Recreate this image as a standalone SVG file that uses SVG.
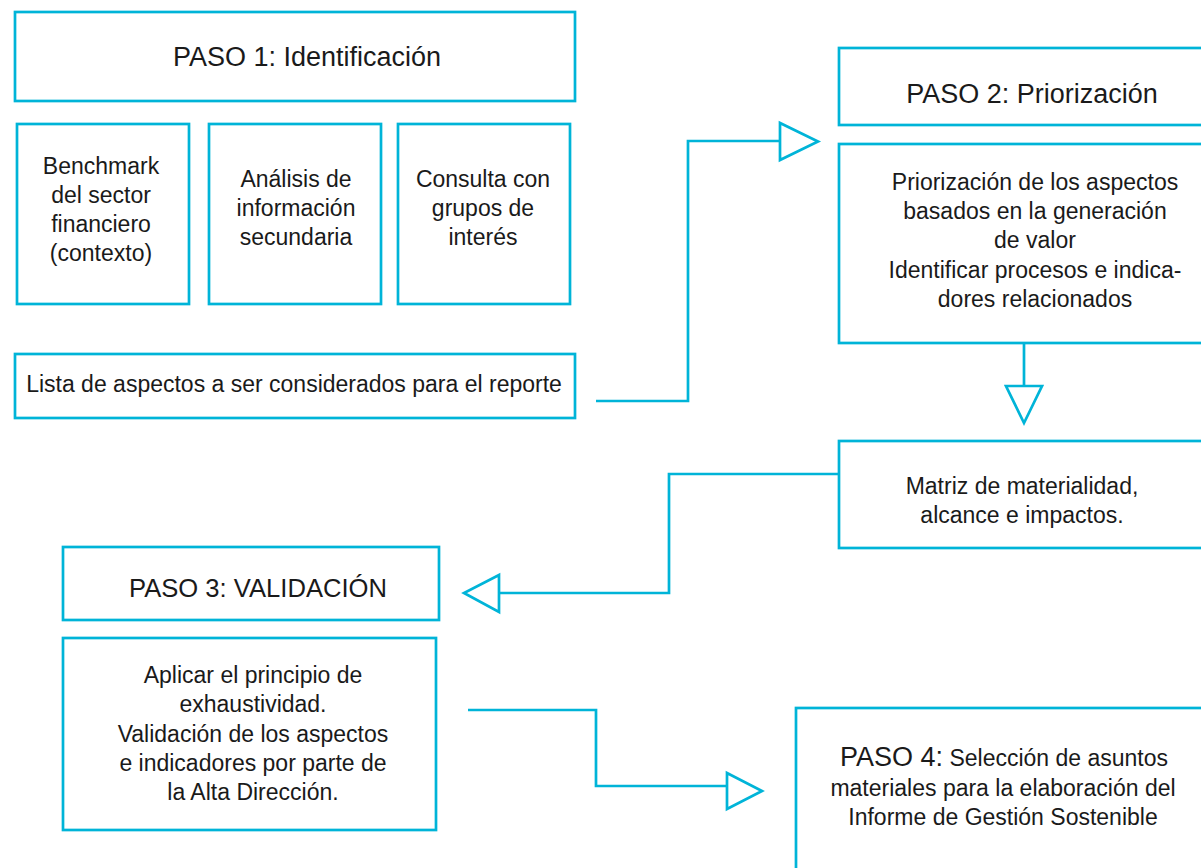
<svg xmlns="http://www.w3.org/2000/svg" width="1201" height="868" viewBox="0 0 1201 868">
<style>
.box{fill:#fff;stroke:#00b4d8;stroke-width:2.7}
.ln{fill:none;stroke:#00b4d8;stroke-width:2.7}
.ah{fill:#fff;stroke:#00b4d8;stroke-width:2.7;stroke-linejoin:miter}
text{font-family:"Liberation Sans",Arial,sans-serif;fill:#1a1a1a;text-anchor:middle;font-size:23px}
.t{font-size:27px}
</style>
<rect width="1201" height="868" fill="#fff"/>
<g id="connectors">
<polyline class="ln" points="596,401 688,401 688,141 780,141"/>
<polygon class="ah" points="780,123 780,160 818,141.5"/>
<polyline class="ln" points="1024,344 1024,386"/>
<polygon class="ah" points="1006,386 1042,386 1024,423"/>
<polyline class="ln" points="838,474 669,474 669,593 499,593"/>
<polygon class="ah" points="499,575 499,612 464,593"/>
<polyline class="ln" points="468,710 596,710 596,786 727,786"/>
<polygon class="ah" points="727,773 727,809 762,791"/>
</g>
<g id="paso1">
<rect class="box" x="15" y="12" width="560" height="89"/>
<text class="t" x="307" y="66">PASO 1: Identificación</text>
</g>
<g id="benchmark">
<rect class="box" x="17" y="124" width="172" height="180"/>
<text x="101" y="174">Benchmark</text>
<text x="101" y="203">del sector</text>
<text x="101" y="232">financiero</text>
<text x="101" y="261">(contexto)</text>
</g>
<g id="analisis">
<rect class="box" x="209" y="124" width="172" height="180"/>
<text x="296" y="187">Análisis de</text>
<text x="296" y="216">información</text>
<text x="296" y="245">secundaria</text>
</g>
<g id="consulta">
<rect class="box" x="398" y="124" width="172" height="180"/>
<text x="483" y="187">Consulta con</text>
<text x="483" y="216">grupos de</text>
<text x="483" y="245">interés</text>
</g>
<g id="lista">
<rect class="box" x="15" y="354" width="560" height="64"/>
<text x="294" y="392">Lista de aspectos a ser considerados para el reporte</text>
</g>
<g id="paso2">
<rect class="box" x="839" y="48" width="380" height="77"/>
<text class="t" x="1032" y="103">PASO 2: Priorización</text>
</g>
<g id="priorizacion">
<rect class="box" x="839" y="144" width="380" height="199"/>
<text x="1035" y="190">Priorización de los aspectos</text>
<text x="1035" y="219">basados en la generación</text>
<text x="1035" y="248">de valor</text>
<text x="1035" y="278">Identificar procesos e indica-</text>
<text x="1035" y="307">dores relacionados</text>
</g>
<g id="matriz">
<rect class="box" x="839" y="441" width="380" height="107"/>
<text x="1022" y="494">Matriz de materialidad,</text>
<text x="1022" y="523">alcance e impactos.</text>
</g>
<g id="paso3">
<rect class="box" x="63" y="547" width="376" height="73"/>
<text x="258" y="597" style="font-size:25.6px">PASO 3: VALIDACIÓN</text>
</g>
<g id="validacion">
<rect class="box" x="63" y="638" width="373" height="192"/>
<text x="253" y="683">Aplicar el principio de</text>
<text x="253" y="712">exhaustividad.</text>
<text x="253" y="742">Validación de los aspectos</text>
<text x="253" y="771">e indicadores por parte de</text>
<text x="253" y="800">la Alta Dirección.</text>
</g>
<g id="paso4">
<rect class="box" x="796" y="708" width="420" height="180"/>
<text x="1004" y="766"><tspan style="font-size:27px">PASO 4:</tspan> Selección de asuntos</text>
<text x="1003" y="796">materiales para la elaboración del</text>
<text x="1003" y="825">Informe de Gestión Sostenible</text>
</g>
</svg>
